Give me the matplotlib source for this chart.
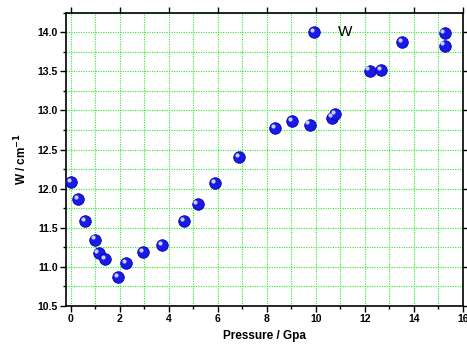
import matplotlib
matplotlib.use("Agg")
import matplotlib.pyplot as plt
import matplotlib.transforms as mtransforms
from matplotlib.ticker import MultipleLocator

pressure = [0.0, 0.31, 0.57, 0.98, 1.13, 1.40, 1.92, 2.25, 2.96, 3.72, 4.61, 5.17, 5.88,
            6.87, 8.33, 9.01, 9.74, 9.94, 10.64, 10.78, 12.19, 12.67, 13.51, 15.25, 15.25]
width = [12.09, 11.87, 11.59, 11.35, 11.18, 11.10, 10.87, 11.05, 11.19, 11.28, 11.59, 11.80, 12.07,
         12.41, 12.78, 12.86, 12.82, 14.00, 12.91, 12.95, 13.51, 13.52, 13.87, 13.99, 13.83]
xticks = [0, 2, 4, 6, 8, 10, 12, 14, 16]
yticks = [10.5, 11.0, 11.5, 12.0, 12.5, 13.0, 13.5, 14.0]

plt.rcParams['font.family'] = ['Liberation Sans', 'DejaVu Sans']

fig = plt.figure(figsize=(4.67, 3.48), dpi=100)
ax = fig.add_axes([0.1413, 0.1207, 0.8500, 0.8428])

ax.set_xlim(-0.2, 16)
ax.set_ylim(10.5, 14.25)
ax.set_xticks(xticks)
ax.set_yticks(yticks)
ax.set_xticklabels([str(t) for t in xticks], fontweight='bold', fontsize=7.5)
ax.set_yticklabels([f"{t:.1f}" for t in yticks], fontweight='bold', fontsize=7.5)
ax.xaxis.set_minor_locator(MultipleLocator(1))
ax.yaxis.set_minor_locator(MultipleLocator(0.25))

ax.grid(True, which='both', color='#22ee22', linestyle=(0, (1.0, 1.2)), linewidth=0.8)
ax.set_axisbelow(True)

ax.tick_params(which='major', direction='out', length=4, width=1, pad=2)
ax.tick_params(which='minor', direction='out', length=2, width=1)
ax.tick_params(which='major', right=True, top=True)
for sp in ax.spines.values():
    sp.set_linewidth(1.2)

ax.plot(pressure, width, linestyle='none', marker='o', markersize=8.3,
        markerfacecolor='#1a1ae8', markeredgecolor='#0000a8', markeredgewidth=0.6, zorder=3)
offset = mtransforms.ScaledTranslation(-1.5 / 72, 1.5 / 72, fig.dpi_scale_trans)
ax.plot(pressure, width, linestyle='none', marker='o', markersize=3.0,
        markerfacecolor='#d8d8ff', markeredgecolor='none', alpha=0.95,
        transform=ax.transData + offset, zorder=4)

ax.text(11.2, 14.0, "W", fontsize=11, ha='center', va='center')

ax.set_xlabel("Pressure / Gpa", fontweight='bold', fontsize=8.5, labelpad=4)
ax.set_ylabel("W / cm$^{\\mathbf{-1}}$", fontweight='bold', fontsize=8.5, labelpad=6)

fig.savefig("out.png", dpi=100)
